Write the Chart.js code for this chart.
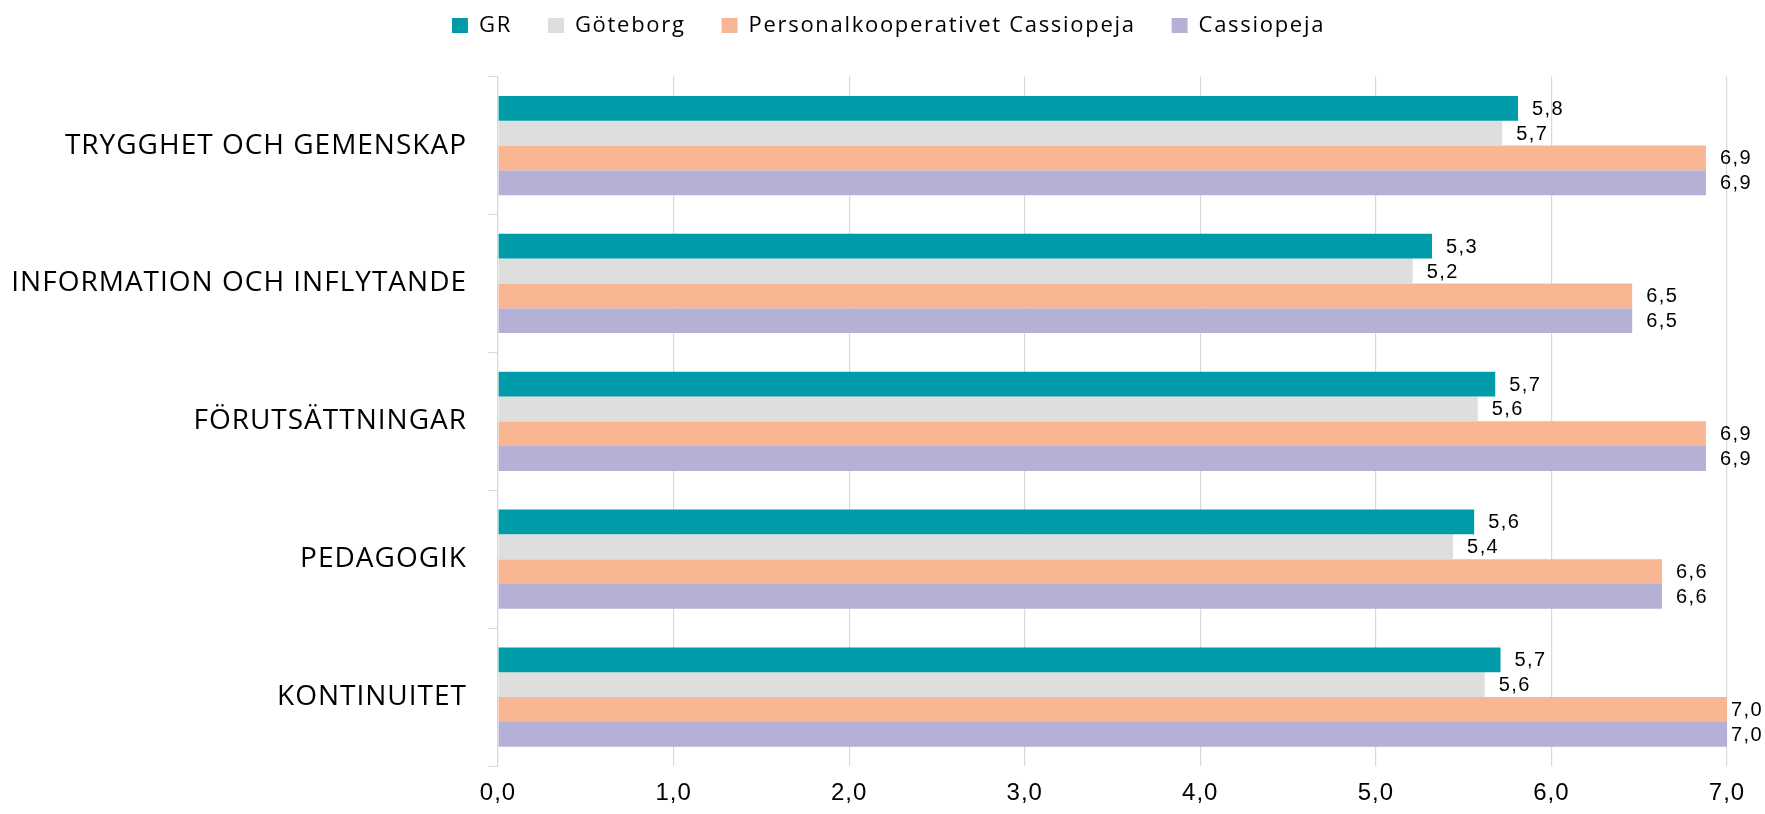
<!DOCTYPE html>
<html>
<head>
<meta charset="utf-8">
<script src="https://cdn.jsdelivr.net/npm/chart.js@4/dist/chart.umd.min.js"></script>
<style>
html,body{margin:0;padding:0;background:#fff;}
#wrap{width:1765px;height:814px;position:relative;}
</style>
</head>
<body>
<div id="wrap"><canvas id="c" width="1765" height="814"></canvas></div>
<script>
const categories = ["TRYGGHET OCH GEMENSKAP", "INFORMATION OCH INFLYTANDE", "FÖRUTSÄTTNINGAR", "PEDAGOGIK", "KONTINUITET"];
const seriesNames = ["GR", "Göteborg", "Personalkooperativet Cassiopeja", "Cassiopeja"];
const grValues = [5.81, 5.32, 5.68, 5.56, 5.71];
const goteborgValues = [5.72, 5.21, 5.58, 5.44, 5.62];
const personalkoopValues = [6.88, 6.46, 6.88, 6.63, 7.0];
const cassiopejaValues = [6.88, 6.46, 6.88, 6.63, 7.0];
const xTicks = [0, 1, 2, 3, 4, 5, 6, 7];

const colors = ["#009BA9", "#DEDEDE", "#F8B692", "#B5B0D5"];
const seriesValues = [grValues, goteborgValues, personalkoopValues, cassiopejaValues];

const fmt = v => v.toFixed(1).replace('.', ',');

const LEGEND_SPACING = '1.7px';
const AXIS_SPACING = '1px';
const LEGEND_SHIFT = 25;

const spacingPlugin = {
  id: 'spacing',
  beforeLayout(chart) {
    chart.ctx.letterSpacing = LEGEND_SPACING;
    const lg = chart.legend;
    if (lg && !lg._extraPatched) {
      const origFit = lg.fit;
      lg.fit = function () { origFit.apply(this, arguments); this.height += 30; };
      const origDraw = lg.draw;
      lg.draw = function () {
        const ctx = this.ctx;
        ctx.save();
        ctx.translate(LEGEND_SHIFT, 0);
        origDraw.apply(this, arguments);
        ctx.restore();
      };
      lg._extraPatched = true;
    }
  },
  beforeDraw(chart) { chart.ctx.letterSpacing = LEGEND_SPACING; }
};

const dataLabelPlugin = {
  id: 'barValueLabels',
  afterDatasetsDraw(chart) {
    const ctx = chart.ctx;
    ctx.save();
    ctx.letterSpacing = '1.4px';
    ctx.font = '20px "Liberation Sans", Arial, sans-serif';
    ctx.fillStyle = '#000';
    ctx.textAlign = 'left';
    ctx.textBaseline = 'middle';
    chart.data.datasets.forEach((ds, di) => {
      const meta = chart.getDatasetMeta(di);
      meta.data.forEach((bar, i) => {
        const txt = fmt(ds.data[i]);
        const w = ctx.measureText(txt).width;
        const x = Math.min(bar.x + 14, chart.width - w - 2);
        ctx.fillText(txt, x, bar.y + 1);
      });
    });
    ctx.restore();
    ctx.letterSpacing = AXIS_SPACING;
  }
};

const datasets = seriesNames.map((name, i) => ({
  label: name,
  data: seriesValues[i],
  backgroundColor: colors[i],
  borderWidth: 0,
  categoryPercentage: 0.72,
  barPercentage: 1.0
}));

new Chart(document.getElementById('c'), {
  type: 'bar',
  data: { labels: categories, datasets },
  options: {
    indexAxis: 'y',
    responsive: false,
    animation: false,
    layout: { padding: { top: -21.4, right: 38, bottom: 0, left: 0 } },
    plugins: {
      legend: {
        position: 'top',
        labels: {
          boxWidth: 16,
          boxHeight: 15,
          padding: 36,
          color: '#000',
          font: { family: '"Open Sans", sans-serif', size: 22 }
        }
      },
      tooltip: { enabled: false }
    },
    scales: {
      x: {
        min: 0, max: 7,
        afterBuildTicks(scale) { scale.ticks = xTicks.map(v => ({ value: v })); },
        afterFit(scale) { scale.height = 48; },
        grid: { color: '#D9D9D9', lineWidth: 1.2, drawTicks: false },
        border: { display: false },
        ticks: {
          z: 1,
          padding: 13,
          color: '#000',
          font: { family: '"Liberation Sans", Arial, sans-serif', size: 24 },
          callback: (v) => fmt(v)
        }
      },
      y: {
        afterFit(scale) { scale.width = 498; },
        grid: { offset: true, drawOnChartArea: false, tickLength: 10, color: '#D9D9D9' },
        border: { display: true, color: '#D9D9D9', width: 1.2 },
        ticks: {
          z: 1,
          padding: 21,
          color: '#000',
          font: { family: '"Open Sans", sans-serif', size: 28 }
        }
      }
    }
  },
  plugins: [spacingPlugin, dataLabelPlugin]
});
</script>
</body>
</html>
